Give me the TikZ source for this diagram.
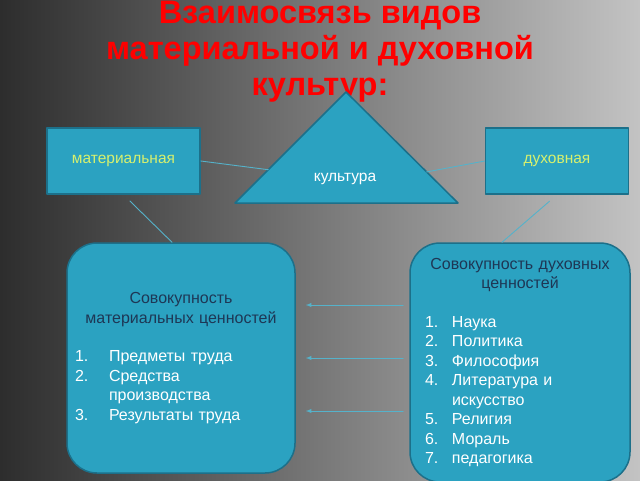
\documentclass[tikz,border=0pt]{standalone}
\usepackage{fontspec}
\setmainfont{Liberation Sans}
\usepackage{tikz}
\tikzset{>=latex}
\usetikzlibrary{calc}
\definecolor{boxfill}{RGB}{43,162,193}
\definecolor{boxedge}{RGB}{28,112,138}
\definecolor{linkcol}{RGB}{85,178,202}
\definecolor{labelcol}{RGB}{214,240,110}
\definecolor{headcol}{RGB}{30,55,85}
\tikzset{
  smallbox/.style={draw=boxedge,line width=1.5pt,fill=boxfill,minimum width=#1,minimum height=66pt,inner sep=0pt,text=labelcol,font=\fontsize{15.5}{17}\selectfont},
  bigbox/.style={draw=boxedge,line width=1.5pt,fill=boxfill,rounded corners=30pt,inner sep=0pt,align=left,text=white,font=\fontsize{16}{19.5}\selectfont},
  link/.style={draw=linkcol,line width=0.9pt}
}
\begin{document}
\begin{tikzpicture}[line cap=round,line join=round,x=1pt,y=-1pt]
  % background
  \fill[left color={rgb,255:red,45;green,45;blue,45},right color={rgb,255:red,195;green,195;blue,195}] (0,0) rectangle (640,480);
  \useasboundingbox (0,0) rectangle (640,480);
  % title
  \node[font=\bfseries\fontsize{32.5}{36}\selectfont,text=red,align=center] (title) at (320,52) {Взаимосвязь видов\\материальной и духовной\\культур:};
  % triangle
  \coordinate (apex) at (346,92);
  \coordinate (baseL) at (235,203);
  \coordinate (baseR) at (458,203);
  \filldraw[fill=boxfill,draw=boxedge,line width=1.5pt] (apex) -- (baseL) -- (baseR) -- cycle;
  \node[text=white,font=\fontsize{15.5}{17}\selectfont] (cult) at (345,179) {культура};
  \coordinate (sideL) at ($(apex)!0.7!(baseL)$);
  \coordinate (sideR) at ($(apex)!0.72!(baseR)$);
  % small boxes
  \node[smallbox=153pt] (mat) at (123.5,161) {материальная};
  \node[smallbox=143pt] (duh) at (557,161) {духовная};
  % big boxes
  \node[bigbox,minimum width=228pt,minimum height=230pt,text width=212pt] (matval) at (181,358) {%
    {\centering\color{headcol}Совокупность\\материальных ценностей\par}
    \vspace{19pt}
    \makebox[34pt][l]{1.}Предметы труда\\
    \makebox[34pt][l]{2.}Средства\\
    \hspace*{34pt}производства\\
    \makebox[34pt][l]{3.}Результаты труда};
  \node[bigbox,minimum width=220pt,minimum height=239pt,text width=190pt] (duhval) at (520,362.5) {%
    {\centering\color{headcol}Совокупность духовных\\ценностей\par}
    \vspace{19pt}
    \makebox[27pt][l]{1.}Наука\\
    \makebox[27pt][l]{2.}Политика\\
    \makebox[27pt][l]{3.}Философия\\
    \makebox[27pt][l]{4.}Литература и\\
    \hspace*{27pt}искусство\\
    \makebox[27pt][l]{5.}Религия\\
    \makebox[27pt][l]{6.}Мораль\\
    \makebox[27pt][l]{7.}педагогика};
  % links
  \draw[link] (mat.east) -- (sideL);
  \draw[link] (sideR) -- (duh.west);
  \draw[link,shorten <=9pt] (mat.south) -- ([xshift=-9pt]matval.north);
  \draw[link,shorten <=10pt] (duh.south) -- ([xshift=-18pt]duhval.north);
  \coordinate (gapR) at (duhval.west |- matval.east);
  \foreach \dy in {53,0,-53}
    \draw[link,->,shorten >=10pt,shorten <=6pt] ([yshift=\dy pt]gapR) -- ([yshift=\dy pt]matval.east);
\end{tikzpicture}
\end{document}
